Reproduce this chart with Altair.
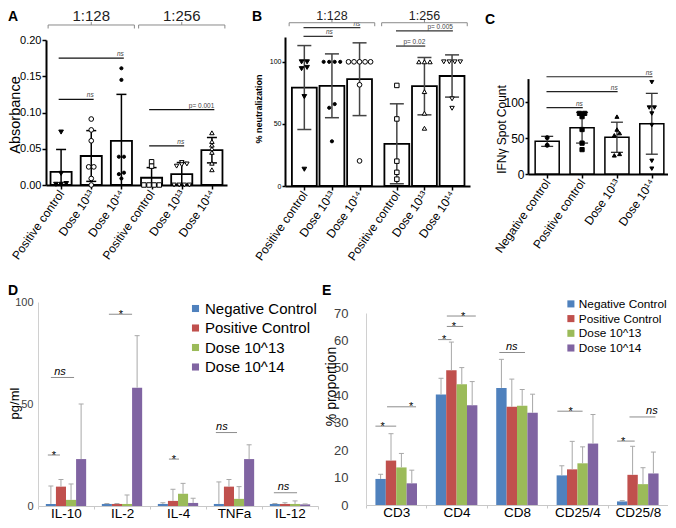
import altair as alt
import pandas as pd

FONT = "Liberation Sans"

# ===================== values =====================
# ---- Panel A : Absorbance ----
A_labels = ["Positive control", "Dose 10¹³", "Dose 10¹⁴",
            "Positive control", "Dose 10¹³", "Dose 10¹⁴"]
A_mean = [0.018, 0.040, 0.061, 0.010, 0.015, 0.048]
A_sd = [0.031, 0.035, 0.064, 0.014, 0.016, 0.0175]
A_points = [
    [0.073, 0.016, 0.002, 0.001, 0.001],
    [0.091, 0.076, 0.061, 0.025, 0.025, 0.009, 0.000],
    [0.161, 0.145, 0.039, 0.039, 0.017, 0.015, 0.009],
    [0.032, 0.026, 0.000, 0.000, 0.000, 0.000],
    [0.031, 0.029, 0.028, 0.026, 0.000, 0.000, 0.000, 0.000],
    [0.072, 0.060, 0.055, 0.050, 0.045, 0.030, 0.021],
]
A_groups = ["1:128", "1:256"]
A_group_y = 0.2207
A_sig_from = [0, 0, 3, 3]
A_sig_to = [2, 1, 4, 5]
A_sig_y = [0.175, 0.118, 0.054, 0.104]
A_sig_text = ["ns", "ns", "ns", "p= 0.001"]

# ---- Panel B : % neutralization ----
B_labels = A_labels
B_mean = [79.3, 80.7, 86.0, 34.0, 80.4, 88.6]
B_sd = [33.8, 25.7, 29.3, 32.2, 23.1, 17.0]
B_points = [
    [100, 100, 95.5, 94.5, 72, 13.5],
    [100, 100, 100, 100, 66, 63, 36],
    [100, 100, 100, 100, 100, 81.5, 20.2],
    [81, 54, 20, 11, 5.5],
    [100, 100, 100, 76, 58.6, 46.5],
    [100, 100, 100, 100, 70.2, 62.6],
]
B_groups = ["1:128", "1:256"]
B_group_y = 131.5
B_sig_from = [0, 0, 3, 3]
B_sig_to = [1, 2, 4, 5]
B_sig_y = [120.5, 127.5, 112.7, 125.0]
B_sig_text = ["ns", "ns", "p= 0.02", "p= 0.005"]

# ---- Panel C : IFNγ spot count ----
C_labels = ["Negative control", "Positive control", "Dose 10¹³", "Dose 10¹⁴"]
C_mean = [45.5, 64.5, 51.2, 70.0]
C_sd = [7.0, 21.4, 21.0, 42.4]
C_points = [
    [50.7, 40.0],
    [84.5, 84.5, 80, 62, 43, 34],
    [80, 62, 57, 54, 28, 26],
    [128, 92.6, 92.6, 84.3, 68.2, 18.4, 7.4],
]
C_sig_from = [0, 0, 0]
C_sig_to = [3, 2, 1]
C_sig_y = [135.6, 114.8, 92.5]
C_sig_text = ["ns", "ns", "ns"]

# ---- Panels D / E : grouped bars ----
SERIES = ["Negative Control", "Positive Control", "Dose 10^13", "Dose 10^14"]
SERIES_COLORS = ["#4F81BD", "#C0504D", "#9BBB59", "#8064A2"]

D_cats = ["IL-10", "IL-2", "IL-4", "TNFa", "IL-12"]
D_neg = [1.0, 1.0, 1.0, 1.0, 1.0]
D_pos = [9.5, 1.0, 2.5, 9.5, 1.0]
D_d13 = [3.0, 1.0, 6.0, 3.5, 1.0]
D_d14 = [23.0, 58.0, 1.5, 23.0, 0.8]
D_neg_err = [8.8, 0.2, 0.6, 10.8, 0.2]
D_pos_err = [3.5, 0.2, 5.7, 3.5, 0.6]
D_d13_err = [7.8, 4.4, 5.1, 6.0, 1.5]
D_d14_err = [27.0, 25.5, 2.3, 7.0, 0.2]
# significance: category, from-series, to-series, text-series, y, label
D_sig_cat = [0, 0, 1, 2, 3, 4]
D_sig_s0 = [-0.3, 0.0, 0.2, 0.6, -0.3, -0.1]
D_sig_s1 = [0.9, 2.3, 2.5, 1.6, 1.8, 2.2]
D_sig_st = [0.3, 0.9, 1.4, 1.1, 0.3, 0.86]
D_sig_y = [25, 63, 94, 23, 36, 6.5]
D_sig_text = ["*", "ns", "*", "*", "ns", "ns"]

E_cats = ["CD3", "CD4", "CD8", "CD25/4", "CD25/8"]
E_neg = [9.5, 40.3, 42.7, 10.8, 1.3]
E_pos = [16.2, 49.1, 35.8, 13.0, 11.0]
E_d13 = [13.7, 44.0, 36.2, 15.2, 7.6]
E_d14 = [7.9, 36.4, 33.6, 22.4, 11.5]
E_neg_err = [1.7, 5.9, 10.4, 3.5, 0.3]
E_pos_err = [9.8, 10.3, 10.1, 10.2, 10.4]
E_d13_err = [5.1, 6.1, 5.9, 6.0, 6.0]
E_d14_err = [4.8, 8.6, 6.8, 10.6, 7.8]
E_sig_cat = [0, 0, 1, 1, 1, 2, 3, 4, 4]
E_sig_s0 = [-0.5, 0.62, -0.28, 0.56, 0.56, -0.2, -0.43, -0.49, 0.7]
E_sig_s1 = [1.5, 3.41, 1.0, 2.13, 3.35, 2.27, 2.0, 1.2, 3.2]
E_sig_st = [0.2, 2.93, 0.3, 1.23, 2.12, 1.0, 0.85, 0.08, 2.85]
E_sig_y = [28.75, 35.8, 60.3, 65.1, 68.9, 55.6, 34.2, 23.3, 32.1]
E_sig_text = ["*", "*", "*", "*", "*", "ns", "*", "*", "ns"]


# ===================== helpers =====================
def jitter(vals, tol, step):
    order = sorted(range(len(vals)), key=lambda i: vals[i])
    clusters = []
    for i in order:
        if clusters and vals[i] - vals[clusters[-1][0]] <= tol:
            clusters[-1].append(i)
        else:
            clusters.append([i])
    off = [0.0] * len(vals)
    for c in clusters:
        n = len(c)
        for k, i in enumerate(c):
            off[i] = (k - (n - 1) / 2) * step
    return off


def js_list(items, quote=True):
    if quote:
        return "[" + ",".join("'" + s + "'" for s in items) + "]"
    return "[" + ",".join(repr(v) for v in items) + "]"


def dot_panel(labels, pos, mean, sd, points, shapes, fills, sizes,
              sig_from, sig_to, sig_y, sig_text, groups, group_y, g):
    xs = alt.Scale(domain=g["xdom"], range=g["xr"], nice=False, zero=False)
    ys = alt.Scale(domain=g["ydom"], range=g["yr"], nice=False, zero=False)
    xaxis = alt.Axis(
        orient="bottom", offset=g["xoff"], values=pos, title=None,
        labelExpr=f"{js_list(labels)}[indexof({js_list(pos, False)}, datum.value)]",
        labelAngle=305, labelAlign="right", labelBaseline="middle",
        labelFontSize=12, labelColor="black", labelPadding=2,
        labelFlush=False, labelOverlap=False, labelBound=False,
        domainColor="black", domainWidth=2, tickColor="black", tickWidth=1.5,
        tickSize=4, grid=False)
    yaxis = alt.Axis(
        orient="left", offset=g["yoff"], values=g["yvals"], format=g["yfmt"],
        labelFontSize=g["ylfs"], labelColor="black", labelPadding=g["ylpad"],
        labelFlush=False, labelOverlap=False,
        domainColor="black", domainWidth=2, tickColor="black", tickWidth=1.5,
        tickSize=g["ytick"], grid=False,
        title=g["ytitle"], titleFontSize=g["ytfs"], titleFontWeight=g["ytfw"],
        titleColor="black", titleAngle=270, titleAlign="center",
        titleBaseline="middle", titleX=g["tx"], titleY=g["ty"])

    def X(f):
        return alt.X(f, type="quantitative", scale=xs, axis=xaxis)

    def Y(f):
        return alt.Y(f, type="quantitative", scale=ys, axis=yaxis)

    bw = g["barw"]
    dfb = pd.DataFrame({"pos": pos, "mean": mean, "sd": sd})
    dfb["x0"] = dfb["pos"] - bw / 2
    dfb["x1"] = dfb["pos"] + bw / 2
    dfb["hi"] = dfb["mean"] + dfb["sd"]
    dfb["lo"] = (dfb["mean"] - dfb["sd"]).clip(lower=0)
    dfb["has_lo"] = (dfb["mean"] - dfb["sd"]) > 0

    rows = []
    for i, vals in enumerate(points):
        offs = jitter(vals, g["jtol"], g["jstep"])
        for v, o in zip(vals, offs):
            rows.append({"px": pos[i] + o, "val": v, "shape": shapes[i],
                         "fill": fills[i], "size": sizes[i]})
    dfp = pd.DataFrame(rows)

    ext = g["sext"]
    dfs = pd.DataFrame({
        "x0": [pos[a] - ext for a in sig_from],
        "x1": [pos[b] + ext for b in sig_to],
        "y": sig_y, "t": sig_text})

    bars = alt.Chart(dfb).mark_bar(fill="white", stroke="black",
                                   strokeWidth=g["bsw"], opacity=1).encode(
        x=X("x0"), x2="x1", y=Y("mean"), y2=alt.datum(0))
    errs = alt.Chart(dfb).mark_rule(color=g["ecol"], strokeWidth=g["esw"]).encode(
        x=X("pos"), y=Y("lo"), y2="hi")
    cap_hi = alt.Chart(dfb).mark_tick(orient="horizontal", size=g["capw"],
                                      thickness=g["esw"], color=g["ecol"],
                                      opacity=1).encode(x=X("pos"), y=Y("hi"))
    cap_lo = alt.Chart(dfb).mark_tick(orient="horizontal", size=g["capw"],
                                      thickness=g["esw"], color=g["ecol"],
                                      opacity=1).encode(
        x=X("pos"), y=Y("lo")).transform_filter("datum.has_lo")
    pts = alt.Chart(dfp).mark_point(filled=True, opacity=1, strokeWidth=1).encode(
        x=X("px"), y=Y("val"),
        shape=alt.Shape("shape:N", scale=None),
        fill=alt.Fill("fill:N", scale=None),
        stroke=alt.value("black"),
        size=alt.Size("size:Q", scale=None))
    s_rule = alt.Chart(dfs).mark_rule(color=g["scol"], strokeWidth=g["ssw"]).encode(
        x=X("x0"), x2="x1", y=Y("y"))
    s_ns = alt.Chart(dfs).mark_text(align="right", baseline="alphabetic", dy=-2,
                                    fontSize=6.5, fontStyle="italic",
                                    color="#444").encode(
        x=X("x1"), y=Y("y"), text="t:N").transform_filter("datum.t == 'ns'")
    s_p = alt.Chart(dfs).mark_text(align="right", baseline="alphabetic", dy=-2,
                                   fontSize=6.5, color="#444").encode(
        x=X("x1"), y=Y("y"), text="t:N").transform_filter("datum.t != 'ns'")
    layers = [bars, errs, cap_hi, cap_lo, pts, s_rule, s_ns, s_p]

    if groups:
        upp = (g["ydom"][1] - g["ydom"][0]) / (g["yr"][0] - g["yr"][1])
        seg = []
        txt = []
        for k, name in enumerate(groups):
            idx = [i for i in range(len(pos)) if i // 3 == k]
            x0 = pos[idx[0]] - g["brpad"]
            x1 = pos[idx[-1]] + g["brpad"]
            xc = (x0 + x1) / 2
            y = group_y
            seg += [
                {"xa": x0, "xb": x1, "ya": y, "yb": y},
                {"xa": x0, "xb": x0, "ya": y, "yb": y - 3.5 * upp},
                {"xa": x1, "xb": x1, "ya": y, "yb": y - 3.5 * upp},
                {"xa": xc, "xb": xc, "ya": y, "yb": y + 3 * upp},
            ]
            txt.append({"xc": xc, "y": y, "name": name})
        br = alt.Chart(pd.DataFrame(seg)).mark_rule(color="#8a8a8a", strokeWidth=1).encode(
            x=X("xa"), x2="xb", y=Y("ya"), y2="yb")
        brt = alt.Chart(pd.DataFrame(txt)).mark_text(
            fontSize=g["brfs"], baseline="alphabetic", dy=g["brdy"], color="#222").encode(
            x=X("xc"), y=Y("y"), text="name:N")
        layers += [br, brt]
    return alt.layer(*layers)


def bar_panel(cats, vals, errs, sig_cat, sig_s0, sig_s1, sig_st, sig_y, sig_text, g):
    xs = alt.Scale(domain=g["xdom"], range=g["xr"], nice=False, zero=False)
    ys = alt.Scale(domain=g["ydom"], range=g["yr"], nice=False, zero=False)
    ticks = [k - 0.5 for k in range(len(cats) + 1)]
    xaxis = alt.Axis(
        orient="bottom", offset=g["xoff"], values=ticks, title=None,
        labelExpr=f"datum.value < 0 ? '' : {js_list(cats)}[round(datum.value - 0.5)]",
        labelOffset=-g["step"] / 2, labelAngle=0, labelAlign="center",
        labelBaseline="top", labelFontSize=g["xlfs"], labelColor="black",
        labelPadding=-3, labelFlush=False, labelOverlap=False, labelBound=False,
        domainColor="#c8c8c8", domainWidth=1, tickColor="#c8c8c8", tickSize=3,
        grid=False)
    yaxis = alt.Axis(
        orient="left", offset=g["yoff"], values=g["yvals"], format="d",
        labelFontSize=g["ylfs"], labelColor="#404040", labelPadding=g["ylpad"],
        labelFlush=False, labelOverlap=False, ticks=False, tickSize=0,
        domainColor="#d0d0d0", domainWidth=1, grid=False,
        title=g["ytitle"], titleFontSize=g["ytfs"], titleFontWeight="normal",
        titleColor="black", titleAngle=270, titleAlign="center",
        titleBaseline="middle", titleX=g["tx"], titleY=g["ty"])

    def X(f):
        return alt.X(f, type="quantitative", scale=xs, axis=xaxis)

    def Y(f):
        return alt.Y(f, type="quantitative", scale=ys, axis=yaxis, stack=None)

    bw = g["bw"]
    rows = []
    for s, name in enumerate(SERIES):
        for c in range(len(cats)):
            xc = c + (s - 1.5) * bw
            rows.append({"series": name, "xc": xc, "x0": xc - bw / 2,
                         "x1": xc + bw / 2, "val": vals[s][c],
                         "top": vals[s][c] + errs[s][c]})
    df = pd.DataFrame(rows)
    dfs = pd.DataFrame({
        "x0": [c + (a - 1.5) * bw for c, a in zip(sig_cat, sig_s0)],
        "x1": [c + (b - 1.5) * bw for c, b in zip(sig_cat, sig_s1)],
        "xt": [c + (t - 1.5) * bw for c, t in zip(sig_cat, sig_st)],
        "y": sig_y, "t": sig_text})

    legend = alt.Legend(orient="none", legendX=g["lx"], legendY=g["ly"], title=None,
                        symbolType="square", symbolSize=g["lsym"], symbolStrokeWidth=0,
                        labelFontSize=g["lfs"], labelColor="black", rowPadding=g["lrp"],
                        labelLimit=300, padding=0, labelOffset=2)
    bars = alt.Chart(df).mark_bar(opacity=1).encode(
        x=X("x0"), x2="x1", y=Y("val"), y2=alt.datum(0),
        color=alt.Color("series:N", scale=alt.Scale(domain=SERIES, range=SERIES_COLORS),
                        legend=legend))
    err = alt.Chart(df).mark_rule(color="#a8a8a8", strokeWidth=1).encode(
        x=X("xc"), y=Y("val"), y2="top")
    cap = alt.Chart(df).mark_tick(orient="horizontal", size=5, thickness=1,
                                  color="#a8a8a8", opacity=1).encode(
        x=X("xc"), y=Y("top"))
    s_rule = alt.Chart(dfs).mark_rule(color="#8c8c8c", strokeWidth=1).encode(
        x=X("x0"), x2="x1", y=Y("y"))
    s_star = alt.Chart(dfs).mark_text(align="center", baseline="alphabetic", dy=3.5,
                                      fontSize=11, color="black").encode(
        x=X("xt"), y=Y("y"), text="t:N").transform_filter("datum.t == '*'")
    s_ns = alt.Chart(dfs).mark_text(align="center", baseline="alphabetic", dy=-2.5,
                                    fontSize=11, fontStyle="italic", color="black").encode(
        x=X("xt"), y=Y("y"), text="t:N").transform_filter("datum.t != '*'")
    return alt.layer(bars, err, cap, s_rule, s_star, s_ns)


# ===================== panels =====================
A_pos = list(range(len(A_labels)))
B_pos = [i + (0.35 if i >= 3 else 0) for i in range(len(B_labels))]
C_pos = list(range(len(C_labels)))

pA = dot_panel(
    A_labels, A_pos, A_mean, A_sd, A_points,
    ["triangle-down", "circle", "circle", "square", "triangle-down", "triangle-up"],
    ["black", "white", "black", "white", "white", "white"],
    [22, 22, 10, 20, 20, 20],
    A_sig_from, A_sig_to, A_sig_y, A_sig_text, A_groups, A_group_y,
    dict(xdom=[-0.5, 5.5], xr=[38, 219], ydom=[0, 0.2], yr=[177, 32],
         xoff=-335, yoff=-38, yvals=[0, 0.05, 0.1, 0.15, 0.2], yfmt=".2f",
         ylfs=11, ylpad=1, ytick=4, ytitle="Absorbance", ytfs=14.5, ytfw="normal",
         tx=-30.5, ty=106.5, barw=0.7, capw=10, bsw=1.8, ecol="black", esw=1.5,
         jtol=0.004, jstep=0.17, sext=0.08, scol="#111", ssw=1.3,
         brpad=0.43, brfs=15, brdy=-3.5))

pB = dot_panel(
    B_labels, B_pos, B_mean, B_sd, B_points,
    ["triangle-down", "circle", "circle", "square", "triangle-up", "triangle-down"],
    ["black", "black", "white", "white", "white", "white"],
    [22, 10, 22, 20, 20, 20],
    B_sig_from, B_sig_to, B_sig_y, B_sig_text, B_groups, B_group_y,
    dict(xdom=[-0.7, 6.0], xr=[277, 462], ydom=[0, 120], yr=[178, 29],
         xoff=-334, yoff=-277, yvals=[0, 50, 100], yfmt="d",
         ylfs=7, ylpad=1, ytick=3, ytitle="% neutralization", ytfs=9, ytfw="bold",
         tx=-27, ty=100.5, barw=0.9, capw=14, bsw=1.8, ecol="#444", esw=1.5,
         jtol=3, jstep=0.2, sext=0.03, scol="#333", ssw=1.3,
         brpad=0.55, brfs=12.5, brdy=-3))

pC = dot_panel(
    C_labels, C_pos, C_mean, C_sd, C_points,
    ["circle", "square", "triangle-up", "triangle-down"],
    ["black", "black", "black", "black"],
    [16, 18, 16, 16],
    C_sig_from, C_sig_to, C_sig_y, C_sig_text, [], None,
    dict(xdom=[-0.55, 3.55], xr=[520, 663], ydom=[0, 133], yr=[166, 70.6],
         xoff=-346, yoff=-520, yvals=[0, 50, 100], yfmt="d",
         ylfs=12, ylpad=1, ytick=3, ytitle="IFNγ Spot  Count", ytfs=12, ytfw="normal",
         tx=-27, ty=121, barw=0.69, capw=12, bsw=1.5, ecol="#333", esw=1.3,
         jtol=4, jstep=0.15, sext=0.02, scol="#222", ssw=1.2,
         brpad=0.5, brfs=13, brdy=-3.5))

pD = bar_panel(
    D_cats, [D_neg, D_pos, D_d13, D_d14], [D_neg_err, D_pos_err, D_d13_err, D_d14_err],
    D_sig_cat, D_sig_s0, D_sig_s1, D_sig_st, D_sig_y, D_sig_text,
    dict(xdom=[-0.5, 4.5], xr=[30, 310], ydom=[0, 100], yr=[498, 294],
         xoff=-14, yoff=-30, yvals=[0, 50, 100], ylfs=11, ylpad=5,
         ytitle="pg/ml", ytfs=13, tx=-23.5, ty=395, bw=0.18, xlfs=13.5, step=56,
         lx=180, ly=293, lsym=50, lfs=15, lrp=3.5))

pE = bar_panel(
    E_cats, [E_neg, E_pos, E_d13, E_d14], [E_neg_err, E_pos_err, E_d13_err, E_d14_err],
    E_sig_cat, E_sig_s0, E_sig_s1, E_sig_st, E_sig_y, E_sig_text,
    dict(xdom=[-0.5, 4.5], xr=[358, 660], ydom=[0, 70], yr=[497, 305],
         xoff=-15, yoff=-358, yvals=[0, 10, 20, 30, 40, 50, 60, 70], ylfs=13, ylpad=18,
         ytitle="% proportion", ytfs=14, tx=-35, ty=378, bw=0.172, xlfs=13.5, step=60.4,
         lx=557, ly=290, lsym=50, lfs=11.8, lrp=1.7))

letter_specs = [("A", 0, 13), ("B", 244, 13), ("C", 477, 16), ("D", 0, 287), ("E", 314, 287)]
letters = alt.layer(*[
    alt.Chart(pd.DataFrame({"t": [t]})).mark_text(
        fontSize=14, fontWeight="bold", align="left", baseline="alphabetic",
        color="black").encode(text="t:N", x=alt.value(x), y=alt.value(y))
    for t, x, y in letter_specs
])

chart = alt.layer(pA, pB, pC, pD, pE, letters).resolve_scale(
    x="independent", y="independent", color="independent"
).properties(
    width=660, height=512, autosize=alt.AutoSizeParams(type="none"), padding=0
).configure_view(stroke=None).configure_axis(
    grid=False, labelFont=FONT, titleFont=FONT
).configure_legend(labelFont=FONT).configure_text(font=FONT)

chart.save("out.html", embed_options={"renderer": "svg", "actions": False})
